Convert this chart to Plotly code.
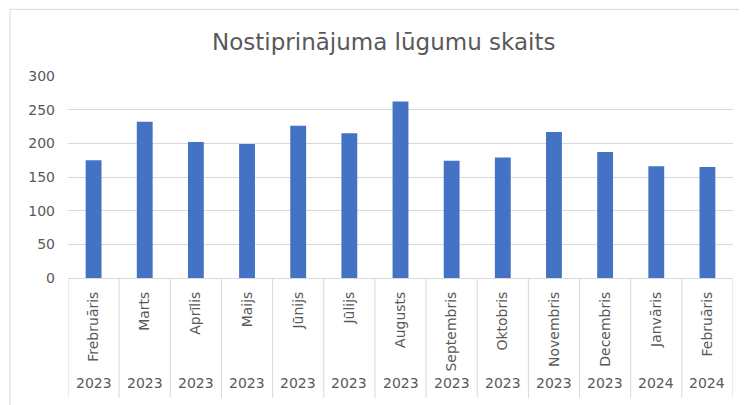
import plotly.graph_objects as go

months = ["Frebruāris", "Marts", "Aprīlis", "Maijs", "Jūnijs", "Jūlijs", "Augusts",
          "Septembris", "Oktobris", "Novembris", "Decembris", "Janvāris", "Februāris"]
years = ["2023"] * 11 + ["2024"] * 2
values = [175, 232, 202, 199, 226, 215, 262, 174, 179, 217, 187, 166, 165]
y_ticks = [0, 50, 100, 150, 200, 250, 300]

FONT = "DejaVu Sans"
GRAY = "#595959"
LINE = "#D9D9D9"
TICK_SIZE = 14

fig = go.Figure(go.Bar(
    x=months,
    y=values,
    marker=dict(color="#4472C4", line=dict(width=0)),
))

fig.update_layout(
    width=747, height=405,
    margin=dict(l=60, r=22, t=68, b=135, autoexpand=False),
    paper_bgcolor="white", plot_bgcolor="white",
    bargap=0.69,
    showlegend=False,
    title=dict(text="Nostiprinājuma lūgumu skaits", x=0.503, xanchor="center",
               xref="container", y=0.916, yanchor="middle",
               font=dict(family=FONT, size=23, color=GRAY)),
    font=dict(family=FONT, size=TICK_SIZE, color=GRAY),
)
fig.update_xaxes(
    type="category", tickangle=-90, automargin=False,
    range=[-0.5, len(months) - 0.5],
    showgrid=False, showline=True, linecolor=LINE, linewidth=1,
    ticks="", ticklabelstandoff=7,
    tickfont=dict(family=FONT, size=TICK_SIZE, color=GRAY),
)
fig.update_yaxes(
    range=[0, 300], tickvals=y_ticks, showgrid=True, gridcolor=LINE,
    zeroline=False, showline=False, ticks="", automargin=False,
    ticklabelstandoff=12,
    tickfont=dict(family=FONT, size=TICK_SIZE, color=GRAY),
)

# category dividers for the two-level axis
for i in range(len(months) + 1):
    fig.add_shape(type="line", xref="x", yref="paper", x0=i - 0.5, x1=i - 0.5,
                  y0=0, y1=-0.594, line=dict(color=LINE, width=1))

# year (outer level) labels
for m, yr in zip(months, years):
    fig.add_annotation(x=m, xref="x", y=-0.52, yref="paper", text=yr, showarrow=False,
                       xanchor="center", yanchor="middle",
                       font=dict(family=FONT, size=TICK_SIZE, color=GRAY))

# chart frame
fig.add_shape(type="rect", xref="paper", yref="paper", x0=-0.0872, x1=1.1, y0=-0.8, y1=1.33,
              line=dict(color=LINE, width=1), fillcolor="rgba(0,0,0,0)", layer="below")

fig.write_html("out.html")
